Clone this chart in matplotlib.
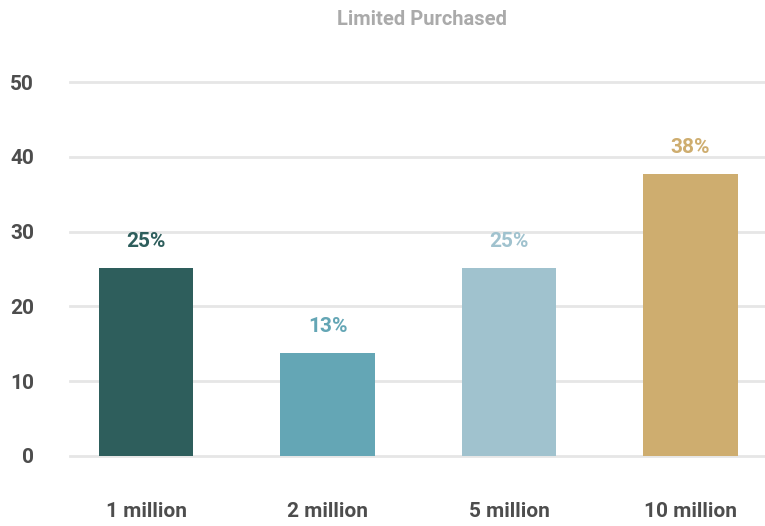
import matplotlib.pyplot as plt

categories = ['1 million', '2 million', '5 million', '10 million']
values = [25.1, 13.8, 25.1, 37.7]
value_labels = ['25%', '13%', '25%', '38%']
colors = ['#2e5e5c', '#64a6b5', '#a0c2ce', '#cead6f']
y_ticks = [0, 10, 20, 30, 40, 50]

plt.rcParams['font.family'] = ['Roboto', 'DejaVu Sans']


def plot_data(filepath):
    fig = plt.figure(figsize=(7.65, 5.26), dpi=100)
    ax = fig.add_axes([0.0915, 0.1331, 0.9085, 0.711])

    x = list(range(len(categories)))
    bars = ax.bar(x, values, width=0.52, color=colors, zorder=3)

    for bar, label, color in zip(bars, value_labels, colors):
        ax.annotate(label, (bar.get_x() + bar.get_width() / 2, bar.get_height()),
                    xytext=(0, 19), textcoords='offset points',
                    ha='center', va='center', fontsize=15, fontweight='bold', color=color)

    ax.set_xlim(-0.42, 3.41)
    ax.set_ylim(0, 50)
    ax.set_yticks(y_ticks)
    ax.set_yticklabels([str(t) for t in y_ticks])
    ax.set_xticks(x)
    ax.set_xticklabels(categories)

    ax.grid(axis='y', color='#e6e6e6', linewidth=2, zorder=0, clip_on=False)
    for spine in ax.spines.values():
        spine.set_visible(False)
    ax.tick_params(axis='both', length=0, labelsize=15, colors='#4d4d4d')
    ax.tick_params(axis='y', pad=26)
    ax.tick_params(axis='x', pad=33)
    for lbl in ax.get_xticklabels() + ax.get_yticklabels():
        lbl.set_fontweight('bold')

    fig.text(0.551, 0.962, 'Limited Purchased', ha='center', va='center',
             fontsize=14.5, fontweight='bold', color='#aaaaaa')

    fig.savefig(filepath, dpi=100)


def main():
    plot_data('out.png')


if __name__ == "__main__":
    main()
